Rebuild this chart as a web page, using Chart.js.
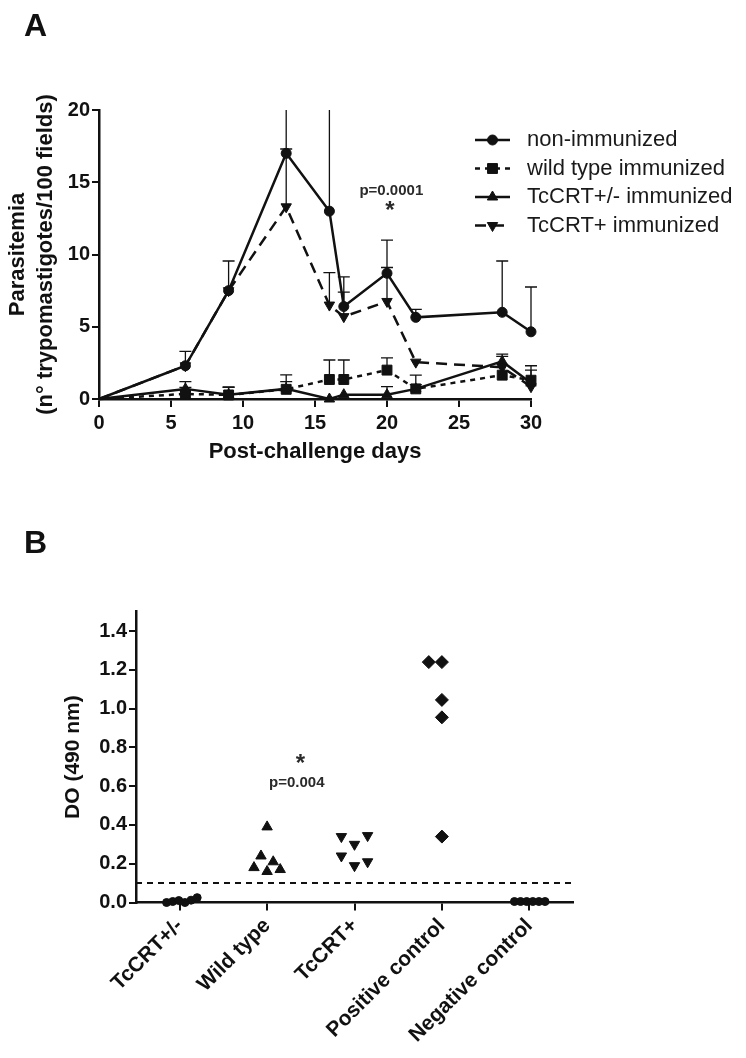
<!DOCTYPE html>
<html>
<head>
<meta charset="utf-8">
<script src="https://cdn.jsdelivr.net/npm/chart.js@4.4.1/dist/chart.umd.min.js"></script>
<style>
  html, body { margin: 0; padding: 0; background: #fff; }
  body { width: 746px; height: 1058px; position: relative; overflow: hidden; font-family: "Liberation Sans", Arial, sans-serif; }
  canvas { position: absolute; left: 0; }
  .panel { position: absolute; font-weight: bold; font-size: 32px; line-height: 32px; color: #111; }
</style>
</head>
<body>
<canvas id="chartA" width="746" height="480" style="top:0"></canvas>
<canvas id="chartB" width="746" height="558" style="top:500px"></canvas>
<div class="panel" style="left:24px; top:9px">A</div>
<div class="panel" style="left:24px; top:526px">B</div>
<script>
// ---- Panel A: parasitemia after challenge ----
const days = [0, 6, 9, 13, 16, 17, 20, 22, 28, 30];
const dayTicks = [0, 5, 10, 15, 20, 25, 30];
const parasiteTicks = [0, 5, 10, 15, 20];

const nonImmunized    = [0, 2.3, 7.5, 17.0, 13.0, 6.4, 8.7, 5.65, 6.0, 4.65];
const nonImmunizedErr = [0, 1.0, 2.05, 5.5, 9.0, 2.05, 2.3, 0.55, 3.55, 3.1];
const wildType        = [0, 0.35, 0.28, 0.67, 1.35, 1.35, 2.0, 0.7, 1.65, 1.3];
const wildTypeErr     = [0, 0.45, 0.55, 1.0, 1.35, 1.35, 0.85, 0.95, 1.3, 1.0];
const heteroImm       = [0, 0.7, 0.3, 0.7, 0.0, 0.3, 0.3, 0.7, 2.6, 1.1];
const heteroImmErr    = [0, 0.5, 0.5, 0.5, 0, 0, 0.55, 0.3, 0.5, 0.9];
const overImm         = [0, 2.3, 7.5, 13.3, 6.5, 5.7, 6.75, 2.55, 2.2, 0.85];
const overImmErr      = [0, 0, 0, 4.0, 2.25, 1.7, 2.35, 0, 0, 0];

// ---- Panel B: antibody levels (DO 490 nm) ----
const groups = ['TcCRT+/-', 'Wild type', 'TcCRT+', 'Positive control', 'Negative control'];
const odTicks = [0, 0.2, 0.4, 0.6, 0.8, 1.0, 1.2, 1.4];
const heteroOD   = [0.0, 0.005, 0.01, 0.0, 0.012, 0.025];
const heteroPos  = [-0.15, -0.08, -0.01, 0.06, 0.13, 0.2];
const wildOD     = [0.39, 0.24, 0.18, 0.16, 0.21, 0.17];
const wildPos    = [0, -0.07, -0.15, 0, 0.07, 0.15];
const overOD     = [0.34, 0.30, 0.345, 0.24, 0.19, 0.21];
const overPos    = [-0.15, 0, 0.15, -0.15, 0, 0.15];
const positiveOD = [1.24, 1.24, 1.045, 0.955, 0.34];
const positivePos = [-0.15, 0, 0, 0, 0];
const negativeOD = [0.005, 0.005, 0.005, 0.005, 0.005, 0.005];
const negativePos = [-0.17, -0.1, -0.03, 0.04, 0.11, 0.18];
const cutoff = 0.1;

const INK = '#111';
const FONT = '"Liberation Sans", Arial, sans-serif';
const tickFont = { family: FONT, size: 20, weight: 'bold' };
const titleFont = { family: FONT, size: 22, weight: 'bold', lineHeight: 1.27 };

function pts(xs, ys) {
  return ys.map((v, i) => ({ x: xs[i], y: v }));
}
function spread(center, offsets, values) {
  return values.map((v, i) => ({ x: center + offsets[i], y: v }));
}

// error bars (upper only, GraphPad style)
const errorBars = {
  id: 'errorBars',
  beforeDatasetsDraw(chart) {
    const { ctx, chartArea, scales: { x, y } } = chart;
    ctx.save();
    ctx.beginPath();
    ctx.rect(chartArea.left - 20, chartArea.top, chartArea.width + 40, chartArea.height + 10);
    ctx.clip();
    ctx.strokeStyle = INK;
    ctx.lineWidth = 1.3;
    chart.data.datasets.forEach(ds => {
      if (!ds.errors) return;
      ds.data.forEach((p, i) => {
        const e = ds.errors[i];
        if (!e) return;
        const px = x.getPixelForValue(p.x);
        const y0 = y.getPixelForValue(p.y);
        const y1 = y.getPixelForValue(p.y + e);
        ctx.beginPath();
        ctx.moveTo(px, y0);
        ctx.lineTo(px, y1);
        ctx.moveTo(px - 6, y1);
        ctx.lineTo(px + 6, y1);
        ctx.stroke();
      });
    });
    ctx.restore();
  }
};

// legend drawn inside the plot's right side
const sideLegend = {
  id: 'sideLegend',
  afterDraw(chart) {
    const { ctx } = chart;
    const rows = [140, 168.5, 197, 225.5];
    ctx.save();
    chart.data.datasets.forEach((ds, i) => {
      const y = rows[i];
      ctx.strokeStyle = INK;
      ctx.fillStyle = INK;
      ctx.lineWidth = 2.5;
      ctx.setLineDash(ds.borderDash || []);
      ctx.beginPath();
      ctx.moveTo(475, y);
      ctx.lineTo(510, y);
      ctx.stroke();
      ctx.setLineDash([]);
      ctx.lineWidth = 1;
      Chart.helpers.drawPoint(ctx, {
        pointStyle: ds.pointStyle, rotation: ds.pointRotation || 0,
        radius: ds.legendRadius, borderWidth: 1
      }, 492.5, y);
      ctx.font = '22px ' + FONT;
      ctx.fillStyle = '#1a1a1a';
      ctx.textBaseline = 'middle';
      ctx.fillText(ds.label, 527, y);
    });
    ctx.restore();
  }
};

// text annotations placed in data coordinates
const notes = {
  id: 'notes',
  afterDraw(chart, args, opts) {
    const { ctx, scales: { x, y } } = chart;
    ctx.save();
    ctx.fillStyle = '#2a2a2a';
    ctx.textAlign = 'center';
    ctx.textBaseline = 'middle';
    opts.items.forEach(n => {
      ctx.font = n.font;
      ctx.fillText(n.text, x.getPixelForValue(n.x), y.getPixelForValue(n.y));
    });
    ctx.restore();
  }
};

function lineSet(label, ys, errs, style, rot, radius, dash) {
  return {
    label: label,
    data: pts(days, ys),
    errors: errs,
    borderColor: INK,
    backgroundColor: INK,
    borderWidth: 2.5,
    borderDash: dash,
    pointStyle: style,
    pointRotation: rot,
    pointRadius: c => c.dataIndex === 0 ? 0 : radius,
    legendRadius: radius,
    pointBackgroundColor: INK,
    pointBorderColor: INK,
    pointBorderWidth: 1,
    tension: 0,
    clip: false
  };
}

new Chart(document.getElementById('chartA'), {
  type: 'line',
  data: {
    datasets: [
      lineSet('non-immunized', nonImmunized, nonImmunizedErr, 'circle', 0, 5, []),
      lineSet('wild type immunized', wildType, wildTypeErr, 'rect', 0, 7, [5, 5]),
      lineSet('TcCRT+/- immunized', heteroImm, heteroImmErr, 'triangle', 0, 6, []),
      lineSet('TcCRT+ immunized', overImm, overImmErr, 'triangle', 180, 6, [11, 7])
    ]
  },
  options: {
    responsive: false,
    animation: false,
    layout: { padding: { top: 110, right: 215, left: 0, bottom: 0 } },
    plugins: {
      legend: { display: false },
      tooltip: { enabled: false },
      notes: {
        items: [
          { text: 'p=0.0001', x: 20.3, y: 14.4, font: 'bold 15px ' + FONT },
          { text: '*', x: 20.2, y: 13.0, font: 'bold 24px ' + FONT }
        ]
      }
    },
    scales: {
      x: {
        type: 'linear', min: 0, max: 30,
        afterBuildTicks: s => { s.ticks = dayTicks.map(v => ({ value: v })); },
        afterFit: s => { s.height = 81; },
        ticks: { font: tickFont, color: INK, padding: 4, maxRotation: 0 },
        grid: { drawOnChartArea: false, tickLength: 8, color: INK, lineWidth: 2 },
        border: { color: INK, width: 2.5 },
        title: { display: true, text: 'Post-challenge days', font: titleFont, color: INK, padding: { bottom: 14 } }
      },
      y: {
        min: 0, max: 20,
        afterBuildTicks: s => { s.ticks = parasiteTicks.map(v => ({ value: v })); },
        afterFit: s => { s.width = 99; },
        ticks: { font: tickFont, color: INK, padding: 2 },
        grid: { drawOnChartArea: false, tickLength: 7, color: INK, lineWidth: 2 },
        border: { color: INK, width: 2.5 },
        title: {
          display: true, text: ['Parasitemia', '(n\u00b0 trypomastigotes/100 fields)'],
          font: titleFont, color: INK, padding: { top: 4 }
        }
      }
    }
  },
  plugins: [errorBars, sideLegend, notes]
});

function dotSet(data, style, rot, radius) {
  return {
    type: 'scatter',
    data: data,
    pointStyle: style,
    pointRotation: rot,
    pointRadius: radius,
    pointBackgroundColor: INK,
    pointBorderColor: INK,
    pointBorderWidth: 1,
    showLine: false,
    clip: false
  };
}

new Chart(document.getElementById('chartB'), {
  type: 'scatter',
  data: {
    datasets: [
      dotSet(spread(0, heteroPos, heteroOD), 'circle', 0, 4),
      dotSet(spread(1, wildPos, wildOD), 'triangle', 0, 6),
      dotSet(spread(2, overPos, overOD), 'triangle', 180, 6),
      dotSet(spread(3, positivePos, positiveOD), 'rectRot', 0, 6.5),
      dotSet(spread(4, negativePos, negativeOD), 'circle', 0, 4),
      {
        type: 'line',
        data: [{ x: -0.5, y: cutoff }, { x: 4.5, y: cutoff }],
        borderColor: INK, borderWidth: 2, borderDash: [6, 5], pointRadius: 0
      }
    ]
  },
  options: {
    responsive: false,
    animation: false,
    layout: { padding: { top: 111.7, right: 173, left: 0, bottom: 0 } },
    plugins: {
      legend: { display: false },
      tooltip: { enabled: false },
      notes: {
        items: [
          { text: '*', x: 1.38, y: 0.71, font: 'bold 24px ' + FONT },
          { text: 'p=0.004', x: 1.34, y: 0.617, font: 'bold 15px ' + FONT }
        ]
      }
    },
    scales: {
      x: {
        type: 'linear', min: -0.5, max: 4.5,
        afterBuildTicks: s => { s.ticks = groups.map((g, i) => ({ value: i })); },
        afterFit: s => { s.height = 155.5; },
        ticks: {
          font: { family: FONT, size: 21, weight: 'bold' }, color: INK, padding: 3, autoSkip: false,
          minRotation: 45, maxRotation: 45,
          callback: v => groups[v]
        },
        grid: { drawOnChartArea: false, tickLength: 8, color: INK, lineWidth: 2 },
        border: { color: INK, width: 2.5 }
      },
      y: {
        min: 0, max: 1.5,
        afterBuildTicks: s => { s.ticks = odTicks.map(v => ({ value: v })); },
        afterFit: s => { s.width = 136; },
        ticks: { font: tickFont, color: INK, padding: 2, callback: v => v.toFixed(1) },
        grid: { drawOnChartArea: false, tickLength: 7, color: INK, lineWidth: 2 },
        border: { color: INK, width: 2.5 },
        title: {
          display: true, text: 'DO (490 nm)',
          font: { family: FONT, size: 21, weight: 'bold' }, color: INK, padding: { top: 61 }
        }
      }
    }
  },
  plugins: [notes]
});
</script>
</body>
</html>
